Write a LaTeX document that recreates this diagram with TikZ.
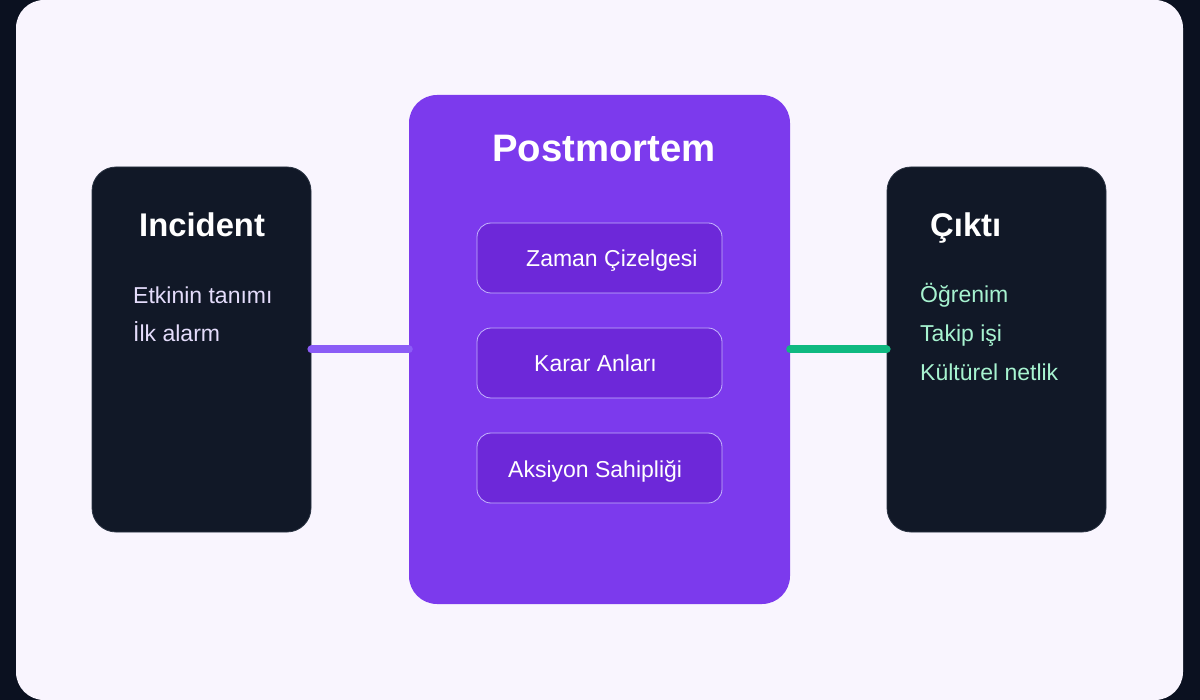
\documentclass[tikz,border=0pt]{standalone}
\usepackage{fontspec}
\setmainfont{Liberation Sans}
\definecolor{bgdark}{HTML}{0B1120}
\definecolor{panel}{HTML}{F9F5FE}
\definecolor{boxdark}{HTML}{111827}
\definecolor{boxedge}{HTML}{2A3342}
\definecolor{violet}{HTML}{7C3AED}
\definecolor{violetdeep}{HTML}{6D28D9}
\definecolor{violetedge}{HTML}{C4B5FD}
\definecolor{lavtext}{HTML}{E4DCFB}
\definecolor{minttext}{HTML}{A7F3D0}
\definecolor{linkviolet}{HTML}{8B5CF6}
\definecolor{linkgreen}{HTML}{10B981}
\tikzset{
  sidebox/.style={draw=boxedge, line width=0.8pt, fill=boxdark, rounded corners=24pt,
    minimum width=219pt, minimum height=365pt, inner sep=0pt},
  centerbox/.style={fill=violet, rounded corners=28pt, minimum width=381pt,
    minimum height=509pt, inner sep=0pt},
  stepbox/.style={draw=violetedge, line width=0.8pt, fill=violetdeep, rounded corners=14pt,
    minimum width=245pt, minimum height=70pt, inner sep=0pt},
  title/.style={anchor=base west, text=white, font=\fontsize{32.8}{38}\selectfont\bfseries, inner sep=0pt},
  bigtitle/.style={anchor=base, text=white, font=\fontsize{38.3}{44}\selectfont\bfseries, inner sep=0pt},
  lavitem/.style={anchor=base west, text=lavtext, font=\fontsize{23}{27}\selectfont, inner sep=0pt},
  mintitem/.style={anchor=base west, text=minttext, font=\fontsize{23}{27}\selectfont, inner sep=0pt},
  steptext/.style={anchor=base west, text=white, font=\fontsize{23}{27}\selectfont, inner sep=0pt},
  link/.style={line width=8pt, line cap=round},
}
\begin{document}
\begin{tikzpicture}[x=1pt, y=-1pt]
\useasboundingbox (0,0) rectangle (1200,700);
\fill[bgdark] (0,0) rectangle (1200,700);
\fill[panel, rounded corners=28pt] (16,0) rectangle (1183,700);

\node[sidebox] (incident) at (201.5,349.5) {};
\node[centerbox] (post) at (599.5,349.5) {};
\node[sidebox] (cikti) at (996.5,349.5) {};

\node[stepbox] (s1) at (599.5,258) {};
\node[stepbox] (s2) at (599.5,363) {};
\node[stepbox] (s3) at (599.5,468) {};

\draw[link, linkviolet] (incident.east) -- (post.west);
\draw[link, linkgreen] (post.east) -- (cikti.west);

\node[title] (tIncident) at (139,237) {Incident};
\node[bigtitle] (tPost) at (604,162) {Postmortem};
\node[title] (tCikti) at (930,237) {Çıktı};

\node[lavitem] (l1) at (133,304) {Etkinin tanımı};
\node[lavitem] (l2) at (133,342) {İlk alarm};

\node[mintitem] (r1) at (920,303) {Öğrenim};
\node[mintitem] (r2) at (920,342) {Takip işi};
\node[mintitem] (r3) at (920,381) {Kültürel netlik};

\node[steptext] (z1) at (526,267) {Zaman Çizelgesi};
\node[steptext] (z2) at (534,372) {Karar Anları};
\node[steptext] (z3) at (508,478) {Aksiyon Sahipliği};
\end{tikzpicture}
\end{document}
